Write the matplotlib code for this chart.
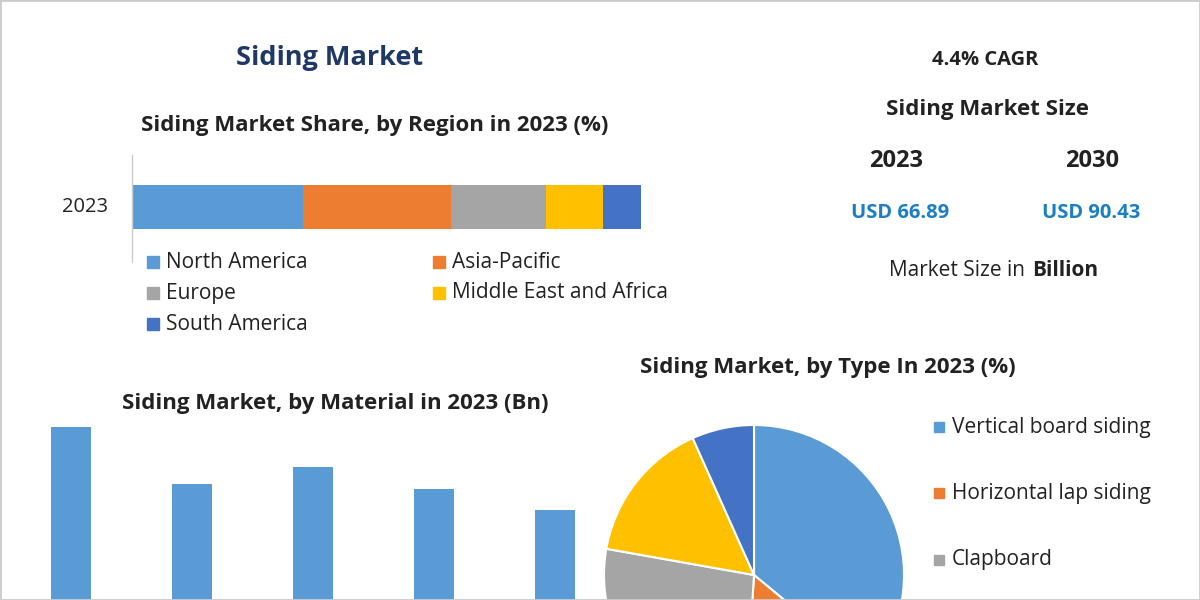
import matplotlib
matplotlib.use("Agg")
import matplotlib.pyplot as plt

plt.rcParams['font.family'] = ['Open Sans', 'DejaVu Sans']

regions = ["North America", "Asia-Pacific", "Europe", "Middle East and Africa", "South America"]
region_share = [33.5, 29.1, 18.7, 11.2, 7.5]
materials = ["Vinyl", "Wood", "Fiber Cement", "Metal", "Others"]
material_values = [14.65, 11.8, 12.65, 11.55, 10.5]
types = ["Vertical board siding", "Horizontal lap siding", "Clapboard", "Shingles", "Others"]
type_share = [36, 15, 26.8, 15.5, 6.7]
colors = ["#5b9bd5", "#ed7d31", "#a5a5a5", "#ffc000", "#4472c4"]

W, H = 1200, 600
fig = plt.figure(figsize=(12, 6), dpi=100)
fig.patch.set_facecolor("white")

def fx(x): return x / W
def fy(y): return 1 - y / H

def ax_px(x0, y0, x1, y1):
    return fig.add_axes([fx(x0), fy(y1), (x1 - x0) / W, (y1 - y0) / H])

navy = "#1f3864"
dark = "#222222"
fig.text(fx(330), fy(58), "Siding Market", ha="center", va="center", fontsize=19.5, fontweight="bold", color=navy)
fig.text(fx(375), fy(125), "Siding Market Share, by Region in 2023 (%)", ha="center", va="center", fontsize=16, fontweight="bold", color=dark)

# stacked bar
ax1 = ax_px(133, 185, 641, 229)
left = 0
for v, c in zip(region_share, colors):
    ax1.barh(0, v, left=left, height=1, color=c)
    left += v
ax1.set_xlim(0, sum(region_share))
ax1.set_ylim(-0.5, 0.5)
ax1.axis("off")
fig.add_artist(plt.Line2D([fx(132), fx(132)], [fy(155), fy(262)], color="#cccccc", lw=1))
fig.text(fx(85), fy(207), "2023", ha="center", va="center", fontsize=14.5, color=dark)

leg_pos = [(147, 262), (433, 262), (147, 293), (433, 293), (147, 324)]
for (x, y), name, c in zip(leg_pos, regions, colors):
    fig.patches.append(plt.Rectangle((fx(x), fy(y + 6)), 12 / W, 12 / H, transform=fig.transFigure, color=c))
    fig.text(fx(x + 19), fy(y), name, va="center", fontsize=15, color=dark)

# right text block
fig.text(fx(985), fy(60), "4.4% CAGR", ha="center", va="center", fontsize=14.5, fontweight="bold", color=dark)
fig.text(fx(988), fy(110), "Siding Market Size", ha="center", va="center", fontsize=16, fontweight="bold", color=dark)
fig.text(fx(896), fy(161), "2023", ha="center", va="center", fontsize=17, fontweight="bold", color=dark)
fig.text(fx(1092), fy(161), "2030", ha="center", va="center", fontsize=17, fontweight="bold", color=dark)
fig.text(fx(900), fy(213), "USD 66.89", ha="center", va="center", fontsize=14.5, fontweight="bold", color="#1b7fc4")
fig.text(fx(1091), fy(213), "USD 90.43", ha="center", va="center", fontsize=14.5, fontweight="bold", color="#1b7fc4")
fig.text(fx(1030), fy(271), "Market Size in ", ha="right", va="center", fontsize=15, color=dark)
fig.text(fx(1032), fy(271), "Billion", ha="left", va="center", fontsize=15, fontweight="bold", color=dark)

# material bars
fig.text(fx(335), fy(404), "Siding Market, by Material in 2023 (Bn)", ha="center", va="center", fontsize=16, fontweight="bold", color=dark)
ax2 = ax_px(0, 420, 600, 720)
ax2.bar(range(len(materials)), material_values, width=0.33, color="#5b9bd5")
ax2.set_xlim(-71 / 121, (600 - 71) / 121)
ax2.set_ylim(0, 15)
ax2.axis("off")

# pie
fig.text(fx(828), fy(368), "Siding Market, by Type In 2023 (%)", ha="center", va="center", fontsize=16, fontweight="bold", color=dark)
ax3 = ax_px(604, 425, 904, 725)
ax3.pie(type_share, colors=colors, startangle=90, counterclock=False,
        wedgeprops=dict(edgecolor="white", linewidth=1.5))
ax3.set_xlim(-1, 1); ax3.set_ylim(-1, 1)
ax3.axis("off")
for i, (name, y) in enumerate(zip(types[:3], [427, 493, 560])):
    fig.patches.append(plt.Rectangle((fx(934), fy(y + 5)), 10 / W, 10 / H, transform=fig.transFigure, color=colors[i]))
    fig.text(fx(952), fy(y), name, va="center", fontsize=15, color=dark)

fig.patches.append(plt.Rectangle((0, 0), 1, 1, transform=fig.transFigure, fill=False, edgecolor="#cccccc", lw=2))
fig.savefig("out.png", dpi=100)
